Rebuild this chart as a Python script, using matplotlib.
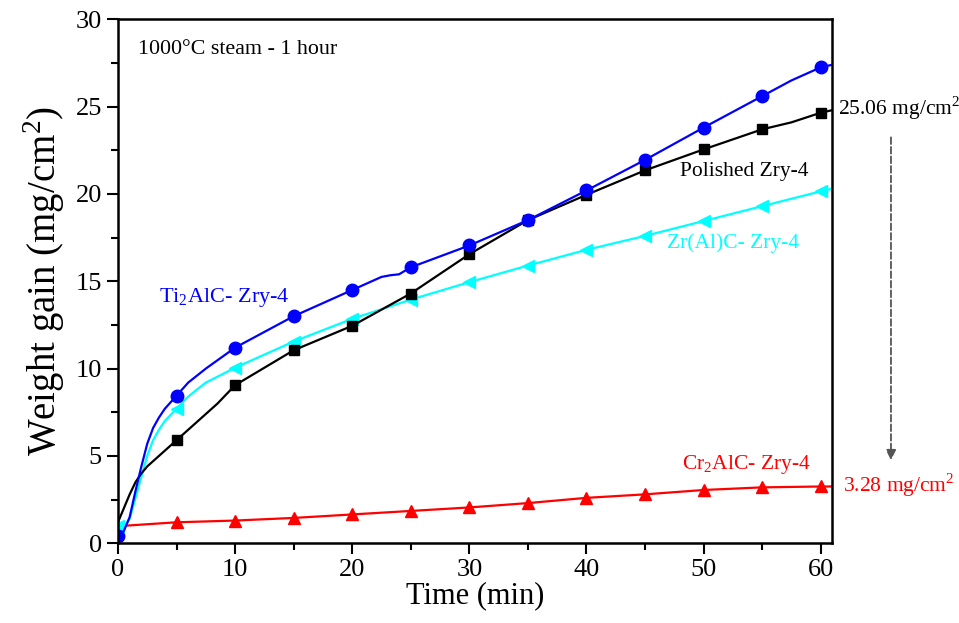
import matplotlib
matplotlib.use("Agg")
from matplotlib import pyplot as plt
from matplotlib.ticker import MultipleLocator

plt.rcParams['font.family'] = ['Liberation Serif', 'DejaVu Serif']
plt.rcParams['mathtext.fontset'] = 'custom'
plt.rcParams['mathtext.rm'] = 'Liberation Serif'

# marker values every 5 min
t_mark = [5, 10, 15, 20, 25, 30, 35, 40, 45, 50, 55, 60]
ti2alc_mark = [8.45, 11.2, 13.0, 14.5, 15.8, 17.05, 18.5, 20.2, 21.95, 23.8, 25.6, 27.25]
polished_mark = [5.9, 9.05, 11.05, 12.45, 14.3, 16.55, 18.5, 19.95, 21.35, 22.55, 23.7, 24.65]
zralc_mark = [7.7, 10.05, 11.55, 12.85, 13.95, 14.95, 15.9, 16.8, 17.6, 18.45, 19.3, 20.15]
cr2alc_mark = [1.2, 1.3, 1.45, 1.65, 1.85, 2.05, 2.3, 2.6, 2.8, 3.05, 3.2, 3.25]

# continuous curves
ti2alc_t = [0, 0.5, 1, 1.5, 2, 2.5, 3, 3.5, 4, 5, 6, 7.5, 10, 15, 20, 22.5, 23.3, 24, 25,
            30, 35, 40, 45, 50, 55, 57.5, 60, 61]
ti2alc_y = [0.4, 0.7, 1.5, 3.0, 4.4, 5.7, 6.6, 7.2, 7.7, 8.45, 9.2, 10.0, 11.2, 13.0, 14.5,
            15.25, 15.35, 15.4, 15.8, 17.05, 18.5, 20.2, 21.95, 23.8, 25.6, 26.5, 27.25, 27.4]
polished_t = [0, 0.5, 1, 1.5, 2, 2.5, 3, 4, 5, 6, 7, 8.5, 10, 15, 20, 25, 30, 35, 40, 45,
              50, 55, 57.5, 60, 61]
polished_y = [1.2, 2.0, 2.8, 3.5, 4.0, 4.4, 4.7, 5.3, 5.9, 6.5, 7.1, 8.0, 9.05, 11.05,
              12.45, 14.3, 16.55, 18.5, 19.95, 21.35, 22.55, 23.7, 24.1, 24.65, 24.8]
zralc_t = [0, 0.5, 1, 1.5, 2, 2.5, 3, 3.5, 4, 5, 6, 7.5, 10, 15, 20, 25, 30, 35, 40, 45,
           50, 55, 60, 61]
zralc_y = [1.0, 0.9, 1.4, 2.6, 3.8, 5.0, 5.9, 6.5, 7.0, 7.7, 8.4, 9.2, 10.05, 11.55,
           12.85, 13.95, 14.95, 15.9, 16.8, 17.6, 18.45, 19.3, 20.15, 20.3]
cr2alc_t = [0.5, 5, 10, 15, 20, 25, 30, 35, 40, 45, 50, 55, 60, 61]
cr2alc_y = [1.0, 1.2, 1.3, 1.45, 1.65, 1.85, 2.05, 2.3, 2.6, 2.8, 3.05, 3.2, 3.25, 3.25]

fig = plt.figure(figsize=(9.59, 6.23), dpi=100)
ax = fig.add_axes([0.123, 0.128, 0.745, 0.841])

ax.plot(cr2alc_t, cr2alc_y, color='red', lw=1.6)
ax.plot(t_mark, cr2alc_mark, ls='none', marker='^', ms=9, color='red')
ax.plot(zralc_t, zralc_y, color='cyan', lw=1.6)
ax.plot([0] + t_mark, [1.0] + zralc_mark, ls='none', marker='<', ms=9, color='cyan')
ax.plot(polished_t, polished_y, color='black', lw=1.6)
ax.plot(t_mark, polished_mark, ls='none', marker='s', ms=7, color='black')
ax.plot(ti2alc_t, ti2alc_y, color='blue', lw=1.6)
ax.plot([0] + t_mark, [0.4] + ti2alc_mark, ls='none', marker='o', ms=9, color='blue')

ax.set_xlim(0, 61)
ax.set_ylim(0, 30)
ax.xaxis.set_major_locator(MultipleLocator(10))
ax.xaxis.set_minor_locator(MultipleLocator(5))
ax.yaxis.set_major_locator(MultipleLocator(5))
ax.yaxis.set_minor_locator(MultipleLocator(2.5))
ax.tick_params(which='both', direction='out', width=1.5, labelsize=19)
ax.tick_params(which='major', length=8)
ax.tick_params(which='minor', length=5)
for s in ax.spines.values():
    s.set_linewidth(1.8)

ax.set_xlabel('Time (min)', fontsize=22, labelpad=0)
ax.set_ylabel('Weight gain (mg/cm$^2$)', fontsize=28, labelpad=6)

ax.text(1.7, 28.3, '1000°C steam - 1 hour', fontsize=15.8, va='center')
ax.text(3.5, 14.1, 'Ti$_2$AlC- Zry-4', fontsize=16, color='blue', va='center')
ax.text(48.0, 21.3, 'Polished Zry-4', fontsize=15.5, color='black', va='center')
ax.text(46.9, 17.2, 'Zr(Al)C- Zry-4', fontsize=15.5, color='cyan', va='center')
ax.text(48.2, 4.5, 'Cr$_2$AlC- Zry-4', fontsize=15.5, color='red', va='center')

ax.text(61.5, 24.9, '25.06 mg/cm$^2$', fontsize=15.5, color='black', va='center',
        clip_on=False)
ax.text(61.9, 3.35, '3.28 mg/cm$^2$', fontsize=15.5, color='red', va='center',
        clip_on=False)
ax.annotate('', xy=(66.0, 4.6), xytext=(66.0, 23.4), annotation_clip=False,
            arrowprops=dict(arrowstyle='-|>', color='#555555', ls='--', lw=1.3,
                            mutation_scale=15, facecolor='black'))

plt.savefig('out.png', dpi=100)
